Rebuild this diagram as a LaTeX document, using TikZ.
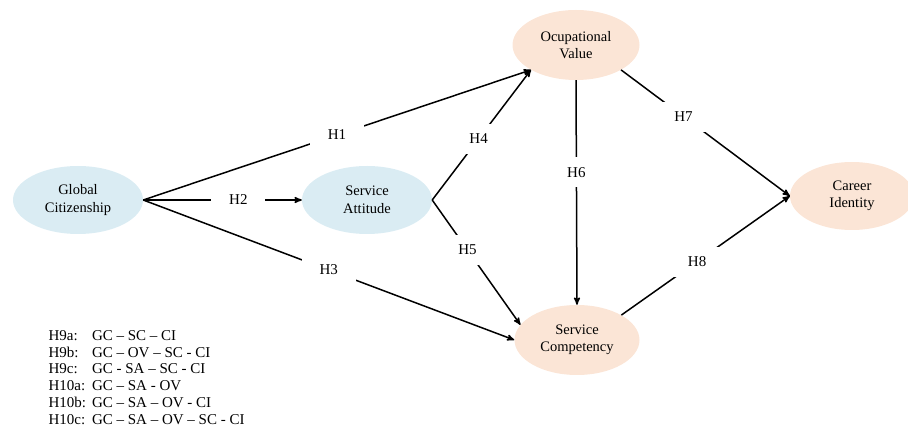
\documentclass[tikz,border=0pt]{standalone}
\usepackage{fontspec}
\setmainfont{Liberation Serif}
\usetikzlibrary{matrix,arrows,shapes.geometric}

\definecolor{gcblue}{RGB}{218,236,243}
\definecolor{cipeach}{RGB}{251,229,214}
\tikzset{
  construct/.style={ellipse, minimum width=130pt, minimum height=68pt, inner sep=0pt,
    align=center, font=\fontsize{14.5}{17.5}\selectfont},
  antecedent/.style={construct, fill=gcblue},
  outcome/.style={construct, fill=cipeach},
  hyp/.style={fill=white, minimum width=54pt, minimum height=30pt, inner sep=0pt,
    font=\fontsize{15}{17}\selectfont}
}

\begin{document}
\begin{tikzpicture}[x=1pt, y=-1pt, >=stealth']
  \useasboundingbox (0,0) rectangle (908,427);
  \node[antecedent] (gc) at (78,200) {Global\\Citizenship};
  \node[antecedent] (sa) at (367,200) {Service\\Attitude};
  \node[outcome, minimum width=127pt, minimum height=70pt] (ov) at (576,45) {Ocupational\\Value};
  \node[outcome, minimum width=125pt, minimum height=70pt] (sc) at (577,340) {Service\\Competency};
  \node[outcome, minimum width=124pt, minimum height=68pt] (ci) at (852,196) {Career\\Identity};
  \path[->, line width=1.5pt]
  (gc.east) edge node [hyp, pos=0.5] {H1} (ov.south west)
  (gc.east) edge node [hyp, pos=0.6] {H2} (sa.west)
  (gc.east) edge node [hyp, pos=0.5] {H3} (sc.west)
  (sa.east) edge node [hyp, pos=0.47] {H4} (ov.south west)
  (sa.east) edge node [hyp, pos=0.4] {H5} (sc.165)
  (ov.south) edge node [hyp, pos=0.41] {H6} (sc.north)
  (ov.south east) edge node [hyp, pos=0.37] {H7} (ci.west)
  (sc.north east) edge node [hyp, pos=0.45] {H8} (ci.west)
;
  \matrix (key) [matrix of nodes, anchor=north west, column sep=6pt, row sep=0pt,
    nodes={anchor=west, inner sep=0pt, text height=11pt, text depth=5.7pt,
      font=\fontsize{15}{16.7}\selectfont}] at (45,326)
  {
H9a:  & GC – SC – CI \\
H9b:  & GC – OV – SC - CI \\
H9c:  & GC - SA – SC - CI \\
H10a: & GC – SA - OV \\
H10b: & GC – SA – OV - CI \\
H10c: & GC – SA – OV – SC - CI \\
};
\end{tikzpicture}
\end{document}
